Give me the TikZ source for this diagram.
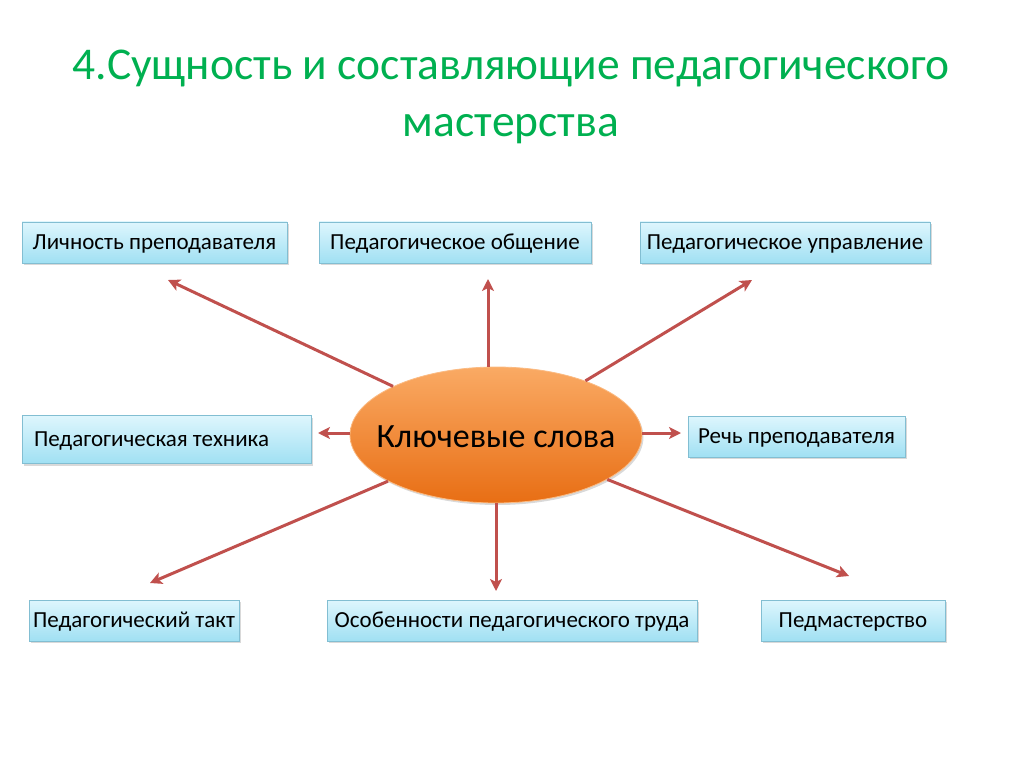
\documentclass[tikz,border=0pt]{standalone}
\usepackage{fontspec}
\setmainfont{Carlito}
\usetikzlibrary{shapes.geometric,arrows.meta,shadows}
\definecolor{ttl}{RGB}{0,176,80}
\definecolor{arr}{RGB}{192,80,77}
\definecolor{btop}{RGB}{222,246,253}
\definecolor{bbot}{RGB}{160,224,243}
\definecolor{bdr}{RGB}{130,190,210}
\definecolor{otop}{RGB}{250,170,100}
\definecolor{obot}{RGB}{232,110,20}
\tikzset{
  kbox/.style={draw=bdr, line width=0.8pt, top color=btop, bottom color=bbot,
    minimum height=41pt, inner sep=0pt, font=\fontsize{23}{26}\selectfont,
    text height=18pt, text depth=4pt,
    drop shadow={shadow xshift=1.5pt, shadow yshift=-2pt, opacity=0.3}},
  kar/.style={draw=arr, line width=3pt, -{Stealth[length=12pt,width=12pt,inset=3pt]}},
}
\begin{document}
\begin{tikzpicture}[x=1pt,y=-1pt]
\useasboundingbox (0,0) rectangle (1024,767);
\node[text=ttl, font=\fontsize{45.5}{57}\selectfont, align=center] (title) at (511,97)
  {4.Сущность и составляющие педагогического\\мастерства};
\node[kbox, minimum width=265pt] (b1) at (154.5,242.5) {Личность преподавателя};
\node[kbox, minimum width=272pt] (b2) at (455,242.5) {Педагогическое общение};
\node[kbox, minimum width=290pt] (b3) at (785,242.5) {Педагогическое управление};
\node[kbox, minimum width=289pt, minimum height=48pt] (b4) at (166.5,439.5) {\hspace*{-30pt}Педагогическая техника};
\node[kbox, minimum width=217pt] (b5) at (796.5,436.5) {Речь преподавателя};
\node[kbox, minimum width=210pt] (b6) at (134,620.5) {Педагогический такт};
\node[kbox, minimum width=370pt] (b7) at (512,620.5) {Особенности педагогического труда};
\node[kbox, minimum width=184pt] (b8) at (853,620.5) {Педмастерство};
\node[ellipse, draw=otop!80!white, line width=0.8pt, top color=otop, bottom color=obot,
  minimum width=292pt, minimum height=136pt, inner sep=0pt,
  drop shadow={shadow xshift=1.5pt, shadow yshift=-2pt, opacity=0.3},
  label={[font=\fontsize{34}{38}\selectfont, yshift=-2pt]center:Ключевые слова}] (kw) at (496,435) {};
\coordinate (t1) at (168,280);
\coordinate (t2) at (488,279);
\coordinate (t3) at (752,280);
\coordinate (t4) at (318,433);
\coordinate (t5) at (681,433);
\coordinate (t6) at (150,583);
\coordinate (t7) at (496,591);
\coordinate (t8) at (849,576);
\draw[kar] (kw) -- (t1);
\draw[kar] (kw.north -| t2) -- (t2);
\draw[kar] (kw) -- (t3);
\draw[kar] (kw.west |- t4) -- (t4);
\draw[kar] (kw.east |- t5) -- (t5);
\draw[kar] (kw) -- (t6);
\draw[kar] (kw.south) -- (t7);
\draw[kar] (kw) -- (t8);
\end{tikzpicture}
\end{document}
